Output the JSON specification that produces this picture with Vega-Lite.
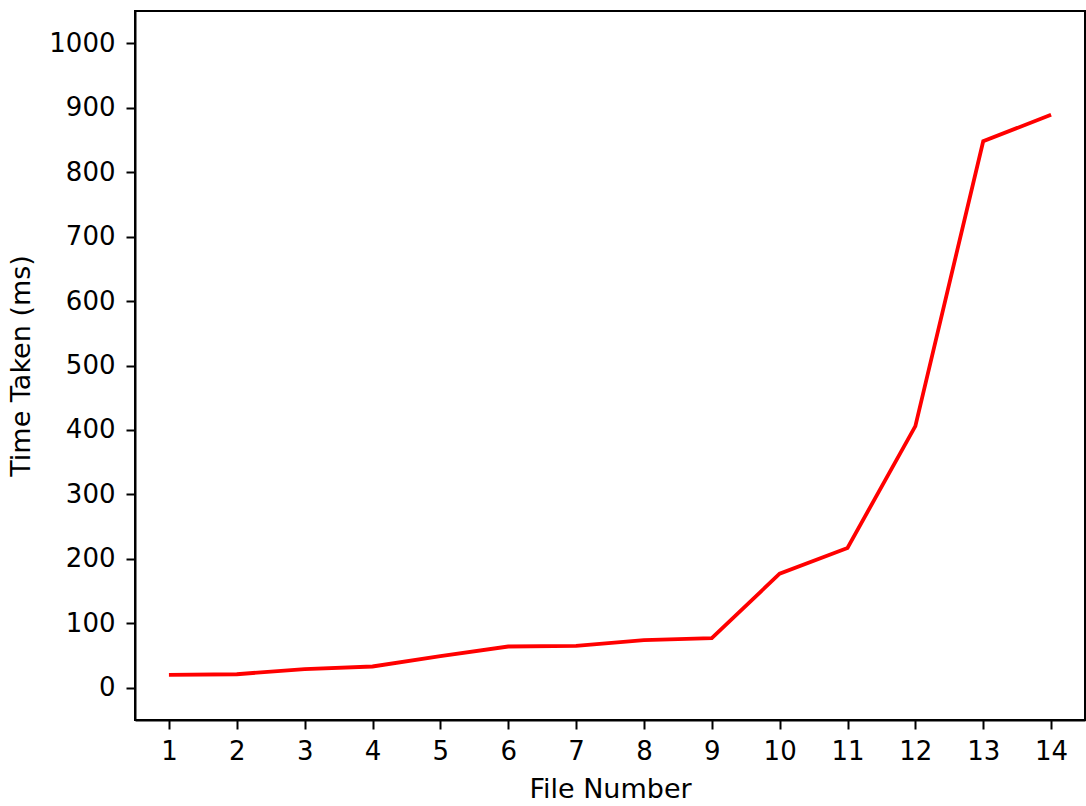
{
  "$schema": "https://vega.github.io/schema/vega-lite/v6.json",
  "autosize": {"type": "none"},
  "padding": {"left": 135, "top": 11, "right": 1, "bottom": 86},
  "width": 950,
  "height": 709,
  "background": "white",
  "config": {
    "view": {"stroke": "black", "strokeWidth": 2},
    "axis": {
      "grid": false,
      "domainColor": "black",
      "domainWidth": 2,
      "tickColor": "black",
      "tickWidth": 2,
      "tickSize": 9,
      "labelFont": "DejaVu Sans",
      "labelFontSize": 26,
      "labelColor": "black",
      "labelPadding": 9,
      "titleFont": "DejaVu Sans",
      "titleFontSize": 27,
      "titleFontWeight": "normal",
      "titleColor": "black"
    }
  },
  "data": {
    "values": [
      {"file": 1, "time": 20},
      {"file": 2, "time": 21},
      {"file": 3, "time": 29},
      {"file": 4, "time": 33},
      {"file": 5, "time": 49},
      {"file": 6, "time": 64},
      {"file": 7, "time": 65},
      {"file": 8, "time": 74},
      {"file": 9, "time": 77},
      {"file": 10, "time": 177},
      {"file": 11, "time": 217},
      {"file": 12, "time": 406},
      {"file": 13, "time": 848},
      {"file": 14, "time": 889}
    ]
  },
  "mark": {"type": "line", "color": "red", "strokeWidth": 3.8, "clip": true},
  "encoding": {
    "x": {
      "field": "file",
      "type": "quantitative",
      "scale": {"domain": [0.5, 14.5], "nice": false, "zero": false},
      "axis": {"title": "File Number", "values": [1,2,3,4,5,6,7,8,9,10,11,12,13,14], "labelFlush": false, "titlePadding": 12}
    },
    "y": {
      "field": "time",
      "type": "quantitative",
      "scale": {"domain": [-50, 1050], "nice": false, "zero": false},
      "axis": {"title": "Time Taken (ms)", "format": "d", "values": [0,100,200,300,400,500,600,700,800,900,1000], "labelFlush": false, "labelPadding": 11, "titlePadding": 13}
    }
  }
}
